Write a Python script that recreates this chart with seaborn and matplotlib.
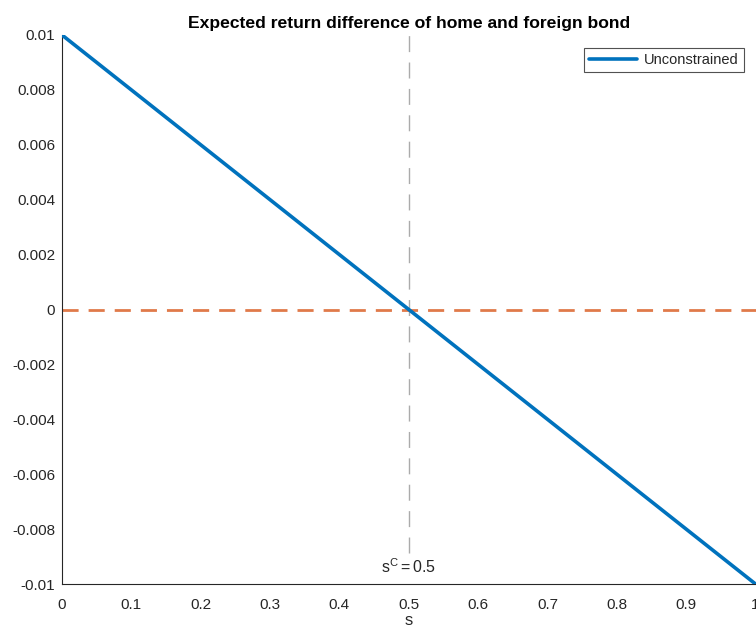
import matplotlib
matplotlib.use("Agg")
import matplotlib.pyplot as plt
import seaborn as sns
import pandas as pd

# Share of home bond holdings and the expected return difference (home - foreign)
s_values = [0.0, 0.5, 1.0]
return_diff = [0.01, 0.0, -0.01]
s_cutoff = 0.5
series_name = "Unconstrained"

x_ticks = [0, 0.1, 0.2, 0.3, 0.4, 0.5, 0.6, 0.7, 0.8, 0.9, 1]
y_ticks = [-0.01, -0.008, -0.006, -0.004, -0.002, 0, 0.002, 0.004, 0.006, 0.008, 0.01]
x_tick_labels = ["0", "0.1", "0.2", "0.3", "0.4", "0.5", "0.6", "0.7", "0.8", "0.9", "1"]
y_tick_labels = ["-0.01", "-0.008", "-0.006", "-0.004", "-0.002", "0",
                 "0.002", "0.004", "0.006", "0.008", "0.01"]

sns.set_style("white")
plt.rcParams["font.family"] = ["Liberation Sans", "DejaVu Sans"]
plt.rcParams["mathtext.fontset"] = "custom"
plt.rcParams["mathtext.rm"] = "Liberation Sans"
plt.rcParams["mathtext.it"] = "Liberation Sans"

df = pd.DataFrame({"s": s_values, "diff": return_diff})

fig = plt.figure(figsize=(7.56, 6.28), dpi=100)
ax = fig.add_axes([62 / 756, 1 - 584 / 628, 693.5 / 756, 549 / 628])

blue = "#0072BD"
orange = "#E07A4A"
gray = "#ABABAB"

sns.lineplot(data=df, x="s", y="diff", ax=ax, color=blue, linewidth=2.6,
             label=series_name, zorder=3)
ax.axhline(0, color=orange, linestyle=(0, (5.8, 3.6)), linewidth=2.0, zorder=2)
ax.axvline(s_cutoff, ymin=31 / 549, ymax=1, color=gray,
           linestyle=(0, (11.5, 7.5)), linewidth=1.0, zorder=1)
ax.text(s_cutoff, -0.01 + 0.0003, r"$\mathregular{s^C = 0.5}$", ha="center",
        va="bottom", fontsize=11.5, color="#262626")

ax.set_xlim(0, 1)
ax.set_ylim(-0.01, 0.01)
ax.set_xticks(x_ticks)
ax.set_xticklabels(x_tick_labels)
ax.set_yticks(y_ticks)
ax.set_yticklabels(y_tick_labels)
ax.tick_params(direction="in", length=4, width=0.8, colors="#262626",
               labelsize=11, pad=5)
ax.tick_params(axis="x", pad=10)

for side in ["top", "right"]:
    ax.spines[side].set_visible(False)
for side in ["left", "bottom"]:
    ax.spines[side].set_color("#262626")
    ax.spines[side].set_linewidth(0.8)

ax.set_xlabel("s", fontsize=12, color="#262626", labelpad=1)
ax.set_ylabel("")
ax.set_title("Expected return difference of home and foreign bond",
             fontsize=12.6, fontweight="bold", color="black", pad=5)

leg = ax.legend(loc="upper right", bbox_to_anchor=(0.99, 0.985), fontsize=10.5,
                frameon=True, fancybox=False, handlelength=3.3,
                borderpad=0.35, handletextpad=0.5, borderaxespad=0.3)
leg.get_frame().set_edgecolor("#262626")
leg.get_frame().set_linewidth(0.8)

fig.savefig("out.png", dpi=100)
